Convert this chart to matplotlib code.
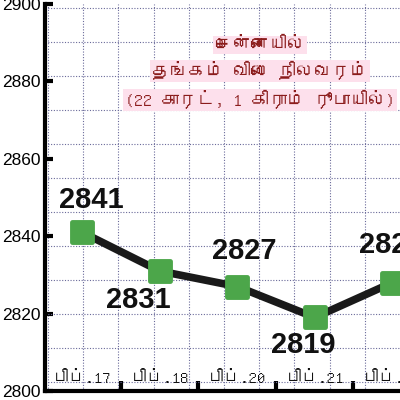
import numpy as np
import matplotlib
matplotlib.use("Agg")
import matplotlib.pyplot as plt
from matplotlib import font_manager
from matplotlib.ft2font import FT2Font
from matplotlib.markers import MarkerStyle

# data
dates = ["பிப்.17", "பிப்.18", "பிப்.20", "பிப்.21", "பிப்.22"]
prices = [2841, 2831, 2827, 2819, 2828]
labels = ["2841", "2831", "2827", "2819", "2828"]
# label offsets in pixels (dx, dy) relative to the point
label_offsets = [(9, 32), (-21, -29), (7, 36), (-11, -28), (-1, 38)]
title_lines = ["சென்னையில்", "தங்கம் விலை நிலவரம்", "(22 காரட், 1 கிராம் ரூபாயில்)"]
yticks = [2800, 2820, 2840, 2860, 2880, 2900]

# find something that can draw tamil, if there is one
tamil_font = "DejaVu Sans"
for f in font_manager.fontManager.ttflist:
    try:
        if 0x0B95 in FT2Font(f.fname).get_charmap():
            tamil_font = f.name
            break
    except Exception:
        pass

fig = plt.figure(figsize=(4, 4), dpi=100)
ax = fig.add_axes([0.1125, 0.0225, 0.8875, 0.9675])

x = np.arange(len(prices))
ax.set_xlim(-0.48, 4.1)
ax.set_ylim(2800, 2900)

# dotted paper grid
ax.set_xticks(np.arange(-0.44, 4.1, 0.454), minor=True)
ax.set_yticks(np.arange(2899, 2800, -8.78), minor=True)
ax.grid(which="minor", color="#6a6a9a", linestyle=(0, (1, 1.5)), linewidth=0.8)
ax.tick_params(which="minor", length=0)

ax.set_yticks(yticks)
ax.set_yticklabels([str(v) for v in yticks], family="Liberation Sans", fontsize=12.5)
ax.set_xticks(x[:-1] + 0.5)
ax.set_xticklabels([])
ax.tick_params(axis="y", direction="in", length=6, width=3, pad=3)
ax.tick_params(axis="x", direction="in", length=7, width=3)

for s in ["top", "right"]:
    ax.spines[s].set_visible(False)
for s in ["left", "bottom"]:
    ax.spines[s].set_linewidth(3)

mk = MarkerStyle("s", joinstyle="round")
ax.plot(x, prices, color="#1a1a1a", linewidth=5.5, zorder=3,
        marker=mk, markersize=14, markerfacecolor="#4ca64a",
        markeredgecolor="#4ca64a", markeredgewidth=3.5, clip_on=False)

for i in range(len(prices)):
    dx, dy = label_offsets[i]
    ax.annotate(labels[i], (x[i], prices[i]), xytext=(dx * 0.72, dy * 0.72),
                textcoords="offset points", ha="center", va="center",
                family="Liberation Sans", fontweight="bold", fontsize=21,
                color="#111111", zorder=4)

for i in range(len(dates)):
    ax.text(x[i], 2803.4, dates[i], ha="center", va="center", family=[tamil_font, "DejaVu Sans"],
            fontweight="bold", fontsize=12, color="#111111")

title_y = [0.895, 0.827, 0.752]
for i in range(len(title_lines)):
    ax.text(0.606, title_y[i], title_lines[i], transform=ax.transAxes, ha="center", va="center",
            family=[tamil_font, "DejaVu Sans"], fontweight="bold", fontsize=13, color="#8b1c1c",
            bbox=dict(boxstyle="square,pad=0.1", facecolor="#fde0ec", edgecolor="none"))

fig.savefig("out.png", dpi=100)
